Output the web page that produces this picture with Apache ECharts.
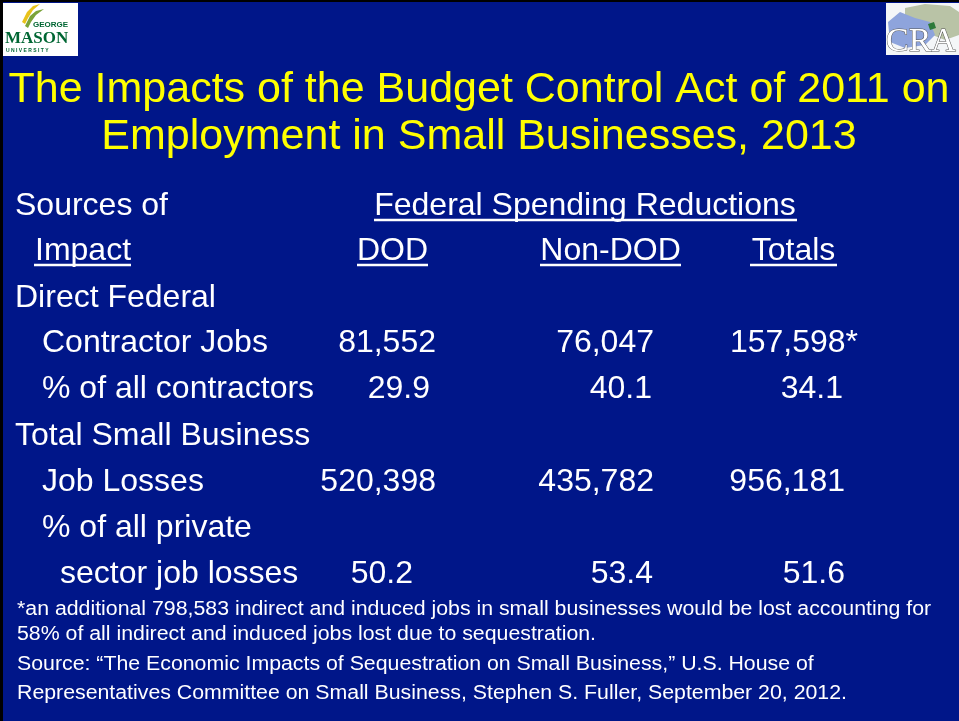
<!DOCTYPE html>
<html><head><meta charset="utf-8">
<script src="https://cdn.jsdelivr.net/npm/echarts@6/dist/echarts.min.js"></script>
<style>html,body{margin:0;padding:0;background:#001689;}#c{width:959px;height:721px;}</style>
</head><body><div id="c"></div>
<script>
const titleLines = ['The Impacts of the Budget Control Act of 2011 on', 'Employment in Small Businesses, 2013'];
const groupHeader = 'Federal Spending Reductions';
const headerLeft = ['Sources of', 'Impact'];
const columns = ['DOD', 'Non-DOD', 'Totals'];
const rowLabels = ['Direct Federal', 'Contractor Jobs', '% of all contractors', 'Total Small Business', 'Job Losses', '% of all private', 'sector job losses'];
const dodValues = [null, '81,552', '29.9', null, '520,398', null, '50.2'];
const nonDodValues = [null, '76,047', '40.1', null, '435,782', null, '53.4'];
const totalValues = [null, '157,598*', '34.1', null, '956,181', null, '51.6'];
const footnotes = [
  '*an additional 798,583 indirect and induced jobs in small businesses would be lost accounting for',
  '58% of all indirect and induced jobs lost due to sequestration.',
  'Source: \u201cThe Economic Impacts of Sequestration on Small Business,\u201d U.S. House of',
  'Representatives Committee on Small Business, Stephen S. Fuller, September 20, 2012.'
];

// layout (positions only)
const FONT = 'Liberation Sans, Arial, sans-serif';
const D = 2;
const titleY = [88 + D, 135 + D];
const rowY = [296, 341, 387, 434, 480, 526, 572].map(v => v + D);
const rowX = [15, 42, 42, 15, 42, 42, 60];
const colRight = [
  [436, 430, 436, 413],
  [654, 652, 654, 653],
  [858, 843, 845, 845]
];
const colHeaderX = [[358, 427], [541, 680], [751, 836]];
const footY = [608, 633, 663, 692].map(v => v + 1);

const g = [];
g.push({type:'rect', shape:{x:0,y:0,width:959,height:721}, style:{fill:'#001689'}, z:0});
g.push({type:'rect', shape:{x:0,y:0,width:3,height:721}, style:{fill:'#000'}, z:1});
g.push({type:'rect', shape:{x:0,y:0,width:959,height:2}, style:{fill:'#000'}, z:1});

// left logo
g.push({type:'rect', shape:{x:3,y:3,width:75,height:53}, style:{fill:'#fff'}, z:2});
g.push({type:'polygon', shape:{points:[[22,22],[27,12],[33,6],[40,4],[33,10],[28,18],[25,24]]}, style:{fill:'#e8c21a'}, z:3});
g.push({type:'polygon', shape:{points:[[25,26],[30,16],[36,11],[44,9],[36,15],[31,22],[28,28]]}, style:{fill:'#7aa33a'}, z:3});
g.push({type:'text', style:{text:'GEORGE', x:33, y:25, fill:'#006633', font:'bold 8px '+FONT, textVerticalAlign:'middle'}, z:3});
g.push({type:'text', style:{text:'MASON', x:5, y:39, fill:'#006633', font:'bold 17px Liberation Serif, serif', textVerticalAlign:'middle'}, z:3});
g.push({type:'text', style:{text:'U N I V E R S I T Y', x:6, y:51, fill:'#006633', font:'bold 5px '+FONT, textVerticalAlign:'middle'}, z:3});

// right logo
g.push({type:'rect', shape:{x:886,y:3,width:73,height:52}, style:{fill:'#f4f6f8'}, z:2});
g.push({type:'polygon', shape:{points:[[905,8],[925,4],[950,6],[959,12],[959,35],[945,40],[930,34],[915,30],[905,22]]}, style:{fill:'#b9c3a6'}, z:3});
g.push({type:'polygon', shape:{points:[[888,22],[900,12],[915,18],[930,22],[935,35],[925,45],[905,48],[890,42]]}, style:{fill:'#8ea4dc'}, z:3});
g.push({type:'polygon', shape:{points:[[928,24],[934,22],[936,28],[930,30]]}, style:{fill:'#2e7a3a'}, z:4});
g.push({type:'text', style:{text:'CRA', x:886, y:42, fill:'#fff', stroke:'#555', lineWidth:1, font:'34px Liberation Serif, serif', textVerticalAlign:'middle'}, z:5});

// title
titleLines.forEach((t,i)=>g.push({type:'text', style:{text:t, x:479, y:titleY[i], fill:'#ffff00', font:'43px '+FONT, textAlign:'center', textVerticalAlign:'middle'}, z:5}));

// headers
g.push({type:'text', style:{text:headerLeft[0], x:15, y:204+D, fill:'#fff', font:'32px '+FONT, textVerticalAlign:'middle'}, z:5});
g.push({type:'text', style:{text:headerLeft[1], x:35, y:249+D, fill:'#fff', font:'32px '+FONT, textVerticalAlign:'middle'}, z:5});
g.push({type:'line', shape:{x1:34,y1:265,x2:131,y2:265}, style:{stroke:'#fff', lineWidth:2.5}, z:5});
g.push({type:'text', style:{text:groupHeader, x:585, y:204+D, fill:'#fff', font:'32px '+FONT, textAlign:'center', textVerticalAlign:'middle'}, z:5});
g.push({type:'line', shape:{x1:374,y1:220,x2:797,y2:220}, style:{stroke:'#fff', lineWidth:2.5}, z:5});
columns.forEach((c,i)=>{
  const [a,b]=colHeaderX[i];
  g.push({type:'text', style:{text:c, x:(a+b)/2, y:249+D, fill:'#fff', font:'32px '+FONT, textAlign:'center', textVerticalAlign:'middle'}, z:5});
  g.push({type:'line', shape:{x1:a-1,y1:265,x2:b+1,y2:265}, style:{stroke:'#fff', lineWidth:2.5}, z:5});
});

// rows
rowLabels.forEach((r,i)=>{
  g.push({type:'text', style:{text:r, x:rowX[i], y:rowY[i], fill:'#fff', font:'32px '+FONT, textVerticalAlign:'middle'}, z:5});
});
[dodValues, nonDodValues, totalValues].forEach((vals,ci)=>{
  let k=0;
  vals.forEach((v,i)=>{
    if(v===null) return;
    g.push({type:'text', style:{text:v, x:colRight[ci][k], y:rowY[i], fill:'#fff', font:'32px '+FONT, textAlign:'right', textVerticalAlign:'middle'}, z:5});
    k++;
  });
});

// footnotes
footnotes.forEach((f,i)=>g.push({type:'text', x:17, y:footY[i], scaleX:1.065, style:{text:f, x:0, y:0, fill:'#fff', font:'20px '+FONT, textVerticalAlign:'middle'}, z:5}));

const chart = echarts.init(document.getElementById('c'), null, {renderer:'canvas'});
chart.setOption({animation:false, backgroundColor:'#001689', graphic:{elements:g}});
</script></body></html>
